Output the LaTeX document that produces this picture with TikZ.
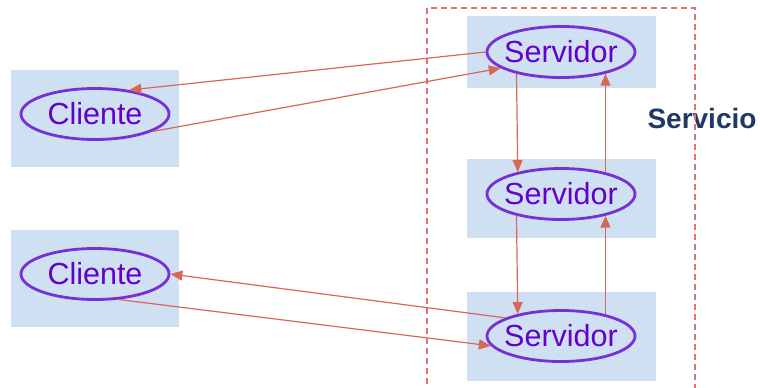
\documentclass[tikz,border=0pt]{standalone}
\usepackage{xcolor}
\usepackage{fontspec}
\setmainfont{Liberation Sans}
\usepackage{tikz}
\usetikzlibrary{shapes.geometric, arrows.meta}

\definecolor{boxblue}{RGB}{207,224,243}
\definecolor{ringpurple}{RGB}{120,48,212}
\definecolor{textpurple}{RGB}{100,0,204}
\definecolor{linkred}{RGB}{214,104,90}
\definecolor{frame}{RGB}{226,114,114}
\definecolor{navy}{RGB}{31,56,100}

\tikzset{
    bluebox/.style={rectangle, fill=boxblue, inner sep=0pt},
    ring/.style={ellipse, draw=ringpurple, line width=2.8pt, text=textpurple,
        minimum width=148pt, minimum height=51pt, inner sep=0pt,
        font=\fontsize{30.5}{32}\selectfont},
    link/.style={draw=linkred, line width=1.2pt, -{Triangle[length=12pt,width=10pt]}}
}

\begin{document}
\begin{tikzpicture}[x=1pt, y=-1pt]
    \useasboundingbox (0,0) rectangle (760,388);

    % Boxes
    \node[bluebox, minimum width=168pt, minimum height=97pt] (c1box) at (95,118.5) {};
    \node[bluebox, minimum width=168pt, minimum height=97pt] (c2box) at (95,278.5) {};
    \node[bluebox, minimum width=189pt, minimum height=72pt] (s1box) at (561.5,52) {};
    \node[bluebox, minimum width=189pt, minimum height=79pt] (s2box) at (561.5,198.5) {};
    \node[bluebox, minimum width=189pt, minimum height=89pt] (s3box) at (561.5,336.5) {};

    % Clients and servers
    \node[ring] (c1) at (95,114) {\makebox[0pt]{Cliente}};
    \node[ring] (c2) at (95,274) {\makebox[0pt]{Cliente}};
    \node[ring] (s1) at (561,52) {\makebox[0pt]{Servidor}};
    \node[ring] (s2) at (561,194) {\makebox[0pt]{Servidor}};
    \node[ring] (s3) at (561,336) {\makebox[0pt]{Servidor}};

    % Label
    \node[text=navy, font=\fontsize{28}{30}\selectfont\bfseries] (serv) at (702,118) {Servicio};

    % Service frame
    \draw[frame, line width=1.1pt, dash pattern=on 6pt off 4pt] (427,8) rectangle (695,400);

    % Links
    \draw[link] (s1.180) -- (c1.35);
    \draw[link] (c1.-17) -- (s1.195);
    \draw[link] (s1.206.5) -- (s2.153.5);
    \draw[link] (s2.26.5) -- (s1.-26.5);
    \draw[link] (s2.206.5) -- (s3.153.5);
    \draw[link] (s3.26.5) -- (s2.-26.5);
    \draw[link] (s3.162) -- (c2.east);
    \draw[link] (c2.-47) -- (s3.188);
\end{tikzpicture}
\end{document}
